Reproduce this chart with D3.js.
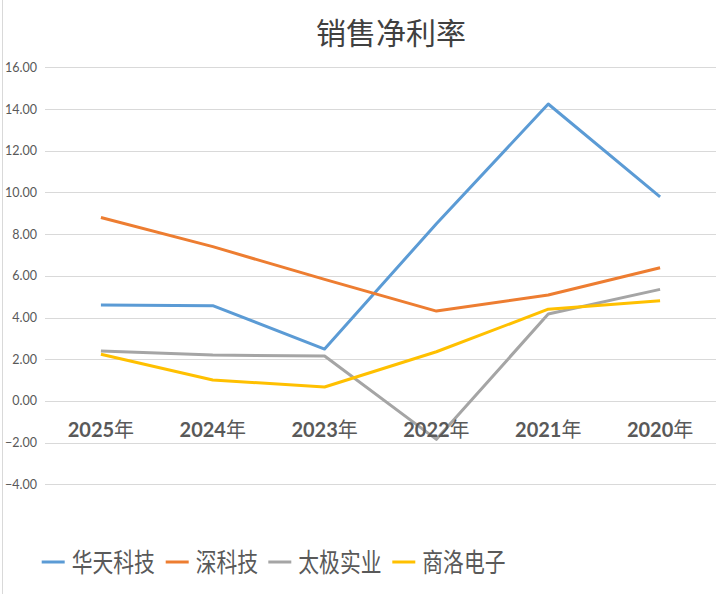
<!DOCTYPE html>
<html><head><meta charset="utf-8">
<script src="https://cdn.jsdelivr.net/npm/d3@7"></script>
<style>body{margin:0;background:#fff;}svg{display:block;}</style>
</head><body>
<script>
const title = "销售净利率";
const categories = ["2025年","2024年","2023年","2022年","2021年","2020年"];
const seriesNames = ["华天科技","深科技","太极实业","商洛电子"];
const huatian = [4.60, 4.57, 2.49, 8.50, 14.24, 9.79];
const shenkeji = [8.80, 7.40, 5.83, 4.31, 5.08, 6.39];
const taiji = [2.40, 2.20, 2.16, -1.84, 4.17, 5.35];
const shangluo = [2.24, 1.01, 0.67, 2.36, 4.40, 4.81];
const yTicks = [-4, -2, 0, 2, 4, 6, 8, 10, 12, 14, 16];
const colors = ["#5B9BD5", "#ED7D31", "#A5A5A5", "#FFC000"];
const seriesValues = [huatian, shenkeji, taiji, shangluo];

const W = 719, H = 594;
const svg = d3.select("body").append("svg").attr("width", W).attr("height", H);

// left border
svg.append("line").attr("x1", 2.5).attr("x2", 2.5).attr("y1", 0).attr("y2", H)
  .attr("stroke", "#d9d9d9").attr("stroke-width", 1);

const x = d3.scaleBand().domain(categories).range([45, 716]);
const y = d3.scaleLinear().domain([-4, 16]).range([484.4, 67.3]);

// grid
svg.append("g").selectAll("line").data(yTicks).join("line")
  .attr("x1", 45).attr("x2", 716)
  .attr("y1", d => Math.round(y(d)) + 0.5).attr("y2", d => Math.round(y(d)) + 0.5)
  .attr("stroke", "#d9d9d9").attr("stroke-width", 1);

// y axis labels
const yAxis = d3.axisLeft(y).tickValues(yTicks).tickFormat(d3.format(".2f")).tickSize(0).tickPadding(0);
const yg = svg.append("g").attr("transform", "translate(37,0)").call(yAxis);
yg.select(".domain").remove();
yg.selectAll("text").attr("font-family", "Lato, 'Liberation Sans', sans-serif").attr("font-size", 12.5)
  .attr("fill", "#595959");

// title
svg.append("text").attr("x", 391).attr("y", 44).attr("text-anchor", "middle")
  .attr("font-family", "'Noto Sans CJK SC', sans-serif").attr("font-size", 30)
  .attr("fill", "#404040").text(title);

// lines
const line = d3.line().x((d, i) => x(categories[i]) + x.bandwidth() / 2).y(d => y(d));
svg.append("g").selectAll("path").data(seriesValues).join("path")
  .attr("d", d => line(d)).attr("fill", "none")
  .attr("stroke", (d, i) => colors[i]).attr("stroke-width", 3)
  .attr("stroke-linejoin", "round").attr("stroke-linecap", "butt");

// x labels
const xg = svg.append("g");
categories.forEach(c => {
  const t = xg.append("text").attr("x", x(c) + x.bandwidth() / 2).attr("y", 437)
    .attr("text-anchor", "middle").attr("fill", "#595959").attr("font-size", 20);
  t.append("tspan").attr("font-family", "Lato, 'Open Sans', sans-serif").attr("font-weight", "bold")
    .text(c.replace("年", ""));
  t.append("tspan").attr("font-family", "'Noto Sans CJK SC', sans-serif").attr("font-weight", "normal")
    .text("年");
});

// legend
const legendXs = [41.7, 165.7, 268.3, 392.3];
const lg = svg.append("g");
seriesNames.forEach((n, i) => {
  lg.append("line").attr("x1", legendXs[i]).attr("x2", legendXs[i] + 23)
    .attr("y1", 562).attr("y2", 562).attr("stroke", colors[i]).attr("stroke-width", 3);
  lg.append("text").attr("transform", `translate(${legendXs[i] + 30},572) scale(0.8,1)`)
    .attr("font-family", "'Noto Sans CJK SC', sans-serif").attr("font-size", 26)
    .attr("fill", "#595959").text(n);
});
</script>
</body></html>
